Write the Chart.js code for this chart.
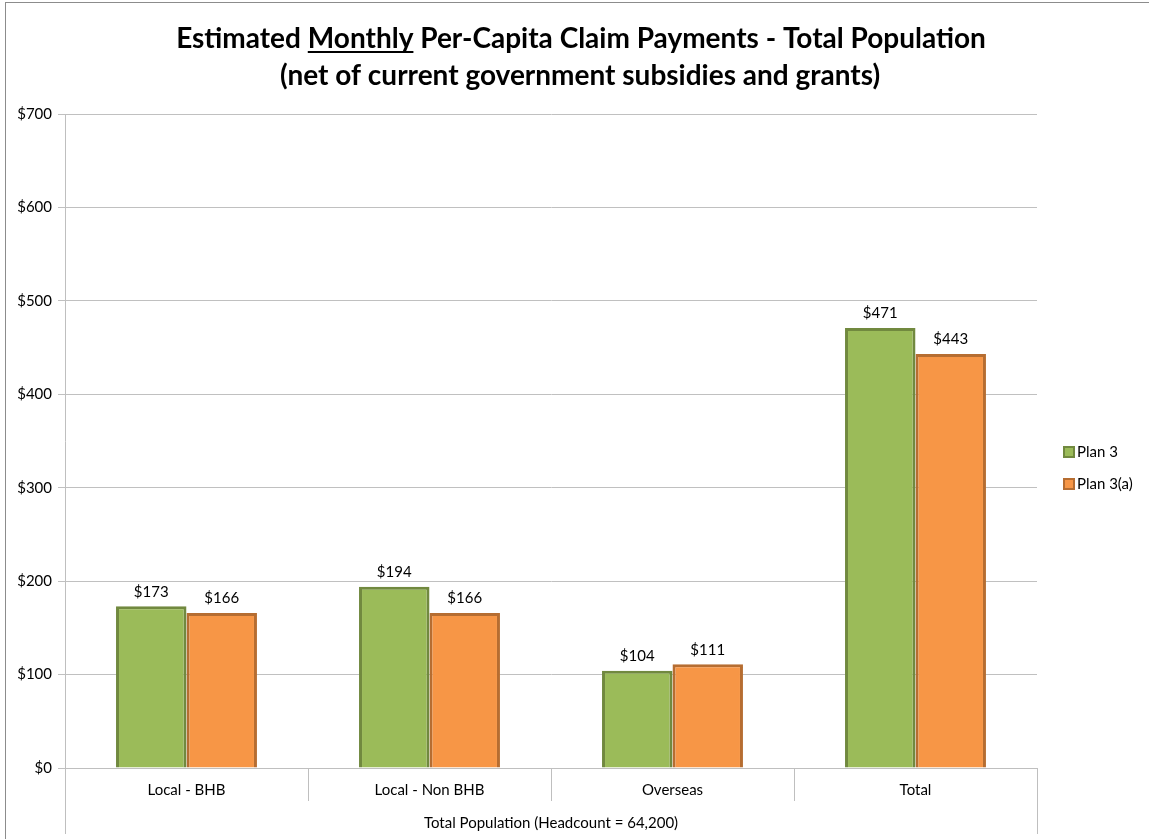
<!DOCTYPE html>
<html>
<head>
<meta charset="utf-8">
<script src="https://cdn.jsdelivr.net/npm/chart.js@4/dist/chart.umd.min.js"></script>
<style>
  html, body { margin: 0; padding: 0; background: #fff; }
  #wrap { width: 1149px; height: 839px; position: relative; }
</style>
</head>
<body>
<div id="wrap"><canvas id="chart" width="1149" height="839"></canvas></div>
<script>
// chart data
const categories = ['Local - BHB', 'Local - Non BHB', 'Overseas', 'Total'];
const plan3 = [173, 194, 104, 471];
const plan3a = [166, 166, 111, 443];
const seriesNames = ['Plan 3', 'Plan 3(a)'];
const groupLabel = 'Total Population (Headcount = 64,200)';
const titleLine1 = ['Estimated ', 'Monthly', ' Per-Capita Claim Payments - Total Population'];
const titleLine2 = '(net of current government subsidies and grants)';

const FONT = 'Lato, "Open Sans", sans-serif';
const GREEN = '#9BBB59', GREEN_EDGE = '#71893F';
const ORANGE = '#F79646', ORANGE_EDGE = '#B66D31';

// title, frame, data labels, legend and category separators
const decorations = {
    id: 'decorations',
    afterDraw(chart) {
        const ctx = chart.ctx;
        const x = chart.scales.x;
        ctx.save();

        // outer frame
        ctx.strokeStyle = '#8c8c8c';
        ctx.lineWidth = 1;
        ctx.strokeRect(5.5, 2.5, 1300, 1000);

        // title
        ctx.fillStyle = '#000';
        ctx.font = 'bold 28px ' + FONT;
        ctx.textBaseline = 'alphabetic';
        const total = ctx.measureText(titleLine1.join('')).width;
        let tx = 581 - total / 2;
        titleLine1.forEach((part, i) => {
            const w = ctx.measureText(part).width;
            ctx.textAlign = 'left';
            ctx.fillText(part, tx, 48);
            if (i === 1) {
                ctx.fillRect(tx, 51, w, 2);
            }
            tx += w;
        });
        ctx.textAlign = 'center';
        ctx.fillText(titleLine2, 580, 85);

        // value labels
        ctx.font = '15px ' + FONT;
        ctx.textAlign = 'center';
        ctx.textBaseline = 'bottom';
        chart.data.datasets.forEach((ds, di) => {
            chart.getDatasetMeta(di).data.forEach((bar, i) => {
                ctx.fillText('$' + ds.data[i], bar.x, bar.y - 7);
            });
        });

        // category separators below the axis
        ctx.strokeStyle = '#bfbfbf';
        ctx.lineWidth = 1;
        const step = (x.right - x.left) / categories.length;
        for (let i = 0; i <= categories.length; i++) {
            const px = Math.round(x.left + step * i) + 0.5;
            const outer = i === 0 || i === categories.length;
            ctx.beginPath();
            ctx.moveTo(px, x.top);
            ctx.lineTo(px, outer ? 834 : 801);
            ctx.stroke();
        }

        // legend
        ctx.font = '15px ' + FONT;
        ctx.textAlign = 'left';
        ctx.textBaseline = 'middle';
        chart.data.datasets.forEach((ds, di) => {
            const cy = 452 + di * 32;
            ctx.fillStyle = ds.borderColor;
            ctx.fillRect(1063, cy - 6, 12, 12);
            ctx.fillStyle = ds.backgroundColor;
            ctx.fillRect(1065, cy - 4, 8, 8);
            ctx.fillStyle = '#000';
            ctx.fillText(ds.label, 1077, cy);
        });
        ctx.restore();
    }
};

new Chart(document.getElementById('chart'), {
    type: 'bar',
    data: {
        labels: categories,
        datasets: [
            { label: seriesNames[0], data: plan3, backgroundColor: GREEN, borderColor: GREEN_EDGE, borderWidth: 3 },
            { label: seriesNames[1], data: plan3a, backgroundColor: ORANGE, borderColor: ORANGE_EDGE, borderWidth: 3 }
        ]
    },
    options: {
        responsive: false,
        animation: false,
        layout: { padding: { left: 5, right: 112, top: 114, bottom: 7 } },
        datasets: { bar: { categoryPercentage: 0.58, barPercentage: 1.0 } },
        plugins: {
            legend: { display: false },
            tooltip: { enabled: false },
            title: { display: false }
        },
        scales: {
            x: {
                afterFit: s => { s.height = 64; },
                grid: { display: false, drawTicks: false },
                border: { display: true, color: '#bfbfbf', width: 1 },
                ticks: { color: '#000', font: { family: FONT, size: 15 }, padding: 13, maxRotation: 0 },
                title: {
                    display: true,
                    text: groupLabel,
                    color: '#000',
                    font: { family: FONT, size: 15 },
                    padding: { top: 0, bottom: 0 }
                }
            },
            y: {
                min: 0,
                max: 700,
                afterFit: s => { s.width = 60; },
                grid: { color: '#c0c0c0', tickLength: 7, tickColor: '#c0c0c0' },
                border: { display: true, color: '#bfbfbf' },
                ticks: {
                    stepSize: 100,
                    color: '#000',
                    padding: 6,
                    font: { family: FONT, size: 15 },
                    callback: v => '$' + v
                }
            }
        }
    },
    plugins: [decorations]
});
</script>
</body>
</html>
